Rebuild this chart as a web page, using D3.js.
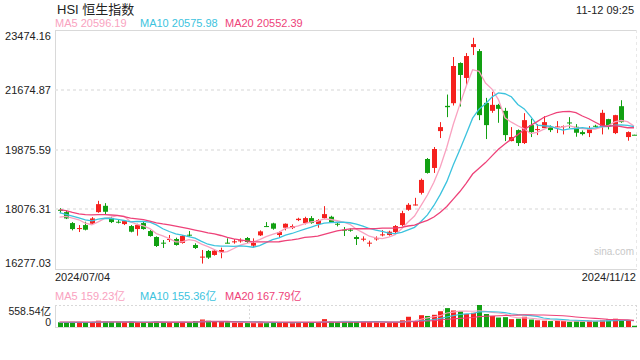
<!DOCTYPE html>
<html><head><meta charset="utf-8">
<script src="https://cdn.jsdelivr.net/npm/d3@7"></script>
<style>
body{margin:0;background:#fff}
svg{display:block;font-family:"Liberation Sans",Arial,"Noto Sans CJK SC",sans-serif}
</style>
</head><body><svg id="c" width="640" height="360"></svg>
<script>
// ---------- data ----------
const dates = [
"2024/07/04","2024/07/05","2024/07/08","2024/07/09","2024/07/10","2024/07/11","2024/07/12","2024/07/15","2024/07/16","2024/07/17",
"2024/07/18","2024/07/19","2024/07/22","2024/07/23","2024/07/24","2024/07/25","2024/07/26","2024/07/29","2024/07/30","2024/07/31",
"2024/08/01","2024/08/02","2024/08/05","2024/08/06","2024/08/07","2024/08/08","2024/08/09","2024/08/12","2024/08/13","2024/08/14",
"2024/08/15","2024/08/16","2024/08/19","2024/08/20","2024/08/21","2024/08/22","2024/08/23","2024/08/26","2024/08/27","2024/08/28",
"2024/08/29","2024/08/30","2024/09/02","2024/09/03","2024/09/04","2024/09/05","2024/09/09","2024/09/10","2024/09/11","2024/09/12",
"2024/09/13","2024/09/16","2024/09/17","2024/09/19","2024/09/20","2024/09/23","2024/09/24","2024/09/25","2024/09/26","2024/09/27",
"2024/09/30","2024/10/02","2024/10/03","2024/10/04","2024/10/07","2024/10/08","2024/10/09","2024/10/10","2024/10/14","2024/10/15",
"2024/10/16","2024/10/17","2024/10/18","2024/10/21","2024/10/22","2024/10/23","2024/10/24","2024/10/25","2024/10/28","2024/10/29",
"2024/10/30","2024/10/31","2024/11/01","2024/11/04","2024/11/05","2024/11/06","2024/11/07","2024/11/08","2024/11/11","2024/11/12"];

const open = [18060,17990,17660,17490,17600,17640,17990,18180,17810,17700,
17630,17570,17480,17660,17420,17240,17070,17160,17180,17060,
17310,17000,16620,16820,16700,16790,17070,17090,17110,17210,
16980,17290,17570,17650,17300,17520,17510,17750,17660,17810,
17630,17810,17850,17640,17460,17460,17240,17170,17050,17170,
17290,17300,17390,17600,18060,18200,18570,19590,19320,20430,
21190,21270,22480,22030,22960,22840,21280,21040,21220,21040,
20130,20460,20070,20610,20460,20520,20550,20540,20550,20690,
20560,20400,20370,20590,20560,20790,20370,21180,20250,20320];

const close = [18028,17800,17480,17510,17460,17800,18230,18000,17690,17690,
17720,17400,17600,17480,17270,16970,17060,17180,17000,17270,
17300,16910,16650,16620,16830,16850,17060,17110,17140,17090,
17060,17410,17560,17490,17390,17640,17570,17790,17810,17660,
17750,17930,17690,17620,17440,17440,17180,17190,17070,17200,
17320,17400,17570,17960,18210,18220,18960,19170,19890,20550,
21150,22390,22120,22690,23050,20910,20610,21220,21100,20310,
20250,20070,20760,20400,20490,20700,20460,20570,20580,20670,
20380,20340,20490,20570,20980,20580,20910,20700,20400,20310];

const high = [18110,18040,17690,17600,17700,17840,18330,18260,17850,17780,
17750,17600,17640,17700,17450,17260,17150,17300,17220,17300,
17420,17050,16850,16850,16860,16920,17200,17180,17200,17240,
17200,17440,17690,17670,17420,17650,17620,17820,17850,17870,
17780,18170,17880,17660,17540,17500,17290,17260,17130,17260,
17450,17430,17600,18030,18260,18420,19000,19620,19950,20700,
21530,22660,22500,22780,23240,22900,21430,21610,21250,21130,
20550,20480,20970,20800,20640,20880,20600,20730,20600,20850,
20640,20450,20580,20620,21070,20800,20920,21360,20420,20320];

const low = [17960,17780,17440,17390,17440,17620,17970,17930,17660,17650,
17600,17380,17280,17460,17250,16940,16910,17090,16980,17040,
17250,16880,16440,16580,16680,16600,17050,17040,17070,17060,
16920,17270,17540,17460,17230,17440,17480,17720,17620,17640,
17520,17790,17680,17560,17270,17400,17000,17110,16950,17130,
17260,17280,17360,17560,18030,18190,18520,19150,19170,20220,
20850,21200,21170,21820,22720,20760,20190,20980,20680,20130,
20120,19980,20040,20250,20310,20520,20400,20370,20330,20520,
20260,20300,20250,20550,20330,20480,20340,20680,20140,20310];

// volume in 亿
const volume = [120,110,130,120,115,125,160,140,130,125,
120,135,110,115,120,140,110,115,120,130,
125,150,190,160,140,130,120,110,105,100,
110,130,115,110,105,120,110,125,115,110,
120,200,130,125,140,130,140,130,125,120,
110,100,110,170,260,150,300,280,310,400,
480,420,400,330,360,558.54,330,280,240,250,
200,210,260,190,170,160,150,160,150,130,
150,140,160,150,180,190,210,200,165,31];

// closes / volumes of the 19 sessions before the first shown one (for the moving averages)
const priorCloses = [18425,18476,18367,17975,17937,18112,17942,17936,17915,18430,18335,18028,18027,18072,18089,17716,17719,17769,17979];
const priorVolumes = [130,125,120,140,135,150,130,125,140,160,150,130,120,125,115,110,120,105,115];

const priceTicks = [23474.16, 21674.87, 19875.59, 18076.31, 16277.03];
const volMax = 558.54;
const maPeriods = [5, 10, 20];
const maColors = ["#f9a2c0", "#3cc3de", "#ee4279"];
const priceLegend = ["MA5 20596.19", "MA10 20575.98", "MA20 20552.39"];
const volLegend = ["MA5 159.23亿", "MA10 155.36亿", "MA20 167.79亿"];
const title = "HSI 恒生指数";
const timeStamp = "11-12 09:25";

// ---------- layout ----------
const svg = d3.select("#c");
const L = 55, R = 637;
const mainTop = 30, mainBot = 269;
const volTop = 305, volBot = 327;
const UP = "#f5211e", DOWN = "#12a012";

const x = d3.scaleBand().domain(dates).range([57, 636.5]).paddingInner(0.22);
const cx = i => x(dates[i]) + x.bandwidth() / 2;
const y = d3.scaleLinear().domain([priceTicks[4], priceTicks[0]]).range([mainBot, mainTop]);
const yv = d3.scaleLinear().domain([0, volMax]).range([volBot, volTop]);

// ---------- header ----------
svg.append("text").attr("x", 57).attr("y", 14).attr("font-size", 13).attr("fill", "#222").text(title);
svg.append("text").attr("x", 634).attr("y", 14).attr("font-size", 11).attr("text-anchor", "end").attr("fill", "#222").text(timeStamp);
const legX = [55, 140, 225];
priceLegend.forEach((t, k) => svg.append("text").attr("x", legX[k]).attr("y", 27).attr("font-size", 11).attr("fill", maColors[k]).text(t));

// ---------- main frame / grid ----------
const g = svg.append("g");
g.append("line").attr("x1", L).attr("x2", R).attr("y1", mainTop + 0.5).attr("y2", mainTop + 0.5).attr("stroke", "#d9d9d9");
g.append("line").attr("x1", L).attr("x2", R).attr("y1", mainBot + 0.5).attr("y2", mainBot + 0.5).attr("stroke", "#d9d9d9");
g.append("line").attr("x1", L + 0.5).attr("x2", L + 0.5).attr("y1", mainTop).attr("y2", mainBot).attr("stroke", "#d9d9d9");
g.append("line").attr("x1", R - 0.5).attr("x2", R - 0.5).attr("y1", mainTop).attr("y2", mainBot).attr("stroke", "#e8e8e8").attr("stroke-dasharray", "3,3");
priceTicks.slice(1, 4).forEach(v => {
  g.append("line").attr("x1", L).attr("x2", R).attr("y1", Math.round(y(v))).attr("y2", Math.round(y(v)))
    .attr("stroke", "#e3e3e3").attr("stroke-width", 1.6).attr("stroke-dasharray", "3,3");
});

// y axis (labels only)
const ax = svg.append("g").attr("transform", `translate(${L - 4},0)`)
  .call(d3.axisLeft(y).tickValues(priceTicks).tickFormat(d3.format(".2f")).tickSize(0).tickPadding(0));
ax.select(".domain").remove();
ax.selectAll("text").attr("font-size", 11).attr("fill", "#222").attr("font-family", "Liberation Sans, Arial, sans-serif")
  .attr("dy", (d, i) => i === 0 ? "0.85em" : (i === 4 ? "-0.25em" : "0.32em"));

// watermark
svg.append("text").attr("x", 614).attr("y", 255).attr("font-size", 10).attr("text-anchor", "middle").attr("fill", "#c8c8c8").text("sina.com");

// ---------- candles ----------
const idx = d3.range(dates.length);
const cg = svg.append("g");
cg.selectAll("line.w").data(idx).join("line")
  .attr("x1", i => Math.round(cx(i)) + 0.5).attr("x2", i => Math.round(cx(i)) + 0.5)
  .attr("y1", i => y(high[i])).attr("y2", i => y(low[i]))
  .attr("stroke", i => close[i] >= open[i] ? UP : DOWN).attr("stroke-width", 1);
cg.selectAll("rect").data(idx).join("rect")
  .attr("x", i => Math.round(cx(i)) - 2)
  .attr("width", 5)
  .attr("y", i => y(Math.max(open[i], close[i])))
  .attr("height", i => Math.max(1, Math.abs(y(open[i]) - y(close[i]))))
  .attr("fill", i => close[i] >= open[i] ? UP : DOWN);

// moving averages
function ma(series, prior, n) {
  const all = prior.concat(series);
  const off = prior.length;
  return series.map((_, i) => d3.mean(all.slice(off + i - n + 1, off + i + 1)));
}
maPeriods.forEach((n, k) => {
  const m = ma(close, priorCloses, n);
  svg.append("path").datum(m).attr("fill", "none").attr("stroke", maColors[k]).attr("stroke-width", 1.3)
    .attr("d", d3.line().x((d, i) => cx(i)).y(d => y(d)));
});

// ---------- dates ----------
svg.append("text").attr("x", 55).attr("y", 281).attr("font-size", 11).attr("fill", "#222").text(dates[0]);
svg.append("text").attr("x", 636).attr("y", 281).attr("font-size", 11).attr("text-anchor", "end").attr("fill", "#222").text(dates[dates.length - 1]);

// ---------- volume panel ----------
volLegend.forEach((t, k) => svg.append("text").attr("x", legX[k]).attr("y", 300).attr("font-size", 11).attr("fill", maColors[k]).text(t));
const vg = svg.append("g");
vg.append("line").attr("x1", L).attr("x2", R).attr("y1", volTop + 0.5).attr("y2", volTop + 0.5).attr("stroke", "#d9d9d9").attr("stroke-dasharray", "2,2");
vg.append("line").attr("x1", L).attr("x2", R).attr("y1", volBot + 0.5).attr("y2", volBot + 0.5).attr("stroke", "#d9d9d9");
vg.append("line").attr("x1", L + 0.5).attr("x2", L + 0.5).attr("y1", volTop).attr("y2", volBot).attr("stroke", "#d9d9d9");
vg.append("line").attr("x1", R - 0.5).attr("x2", R - 0.5).attr("y1", volTop).attr("y2", volBot).attr("stroke", "#d9d9d9").attr("stroke-dasharray", "2,2");
[1, 2].forEach(k => {
  const xx = Math.round(L + (R - L) * k / 3) + 0.5;
  vg.append("line").attr("x1", xx).attr("x2", xx).attr("y1", volTop).attr("y2", volBot).attr("stroke", "#d9d9d9").attr("stroke-dasharray", "2,2");
});
svg.append("text").attr("x", 51).attr("y", 315).attr("font-size", 10.5).attr("text-anchor", "end").attr("fill", "#222").text(d3.format(".2f")(volMax) + "亿");
svg.append("text").attr("x", 51).attr("y", 326).attr("font-size", 10.5).attr("text-anchor", "end").attr("fill", "#222").text("0");

vg.selectAll("rect").data(idx).join("rect")
  .attr("x", i => Math.round(cx(i)) - 2).attr("width", 5)
  .attr("y", i => yv(volume[i])).attr("height", i => yv(0) - yv(volume[i]))
  .attr("fill", i => close[i] >= open[i] ? UP : DOWN);
maPeriods.forEach((n, k) => {
  const m = ma(volume, priorVolumes, n);
  svg.append("path").datum(m).attr("fill", "none").attr("stroke", maColors[k]).attr("stroke-width", 1.1)
    .attr("d", d3.line().x((d, i) => cx(i)).y(d => yv(d)));
});
</script></body></html>
